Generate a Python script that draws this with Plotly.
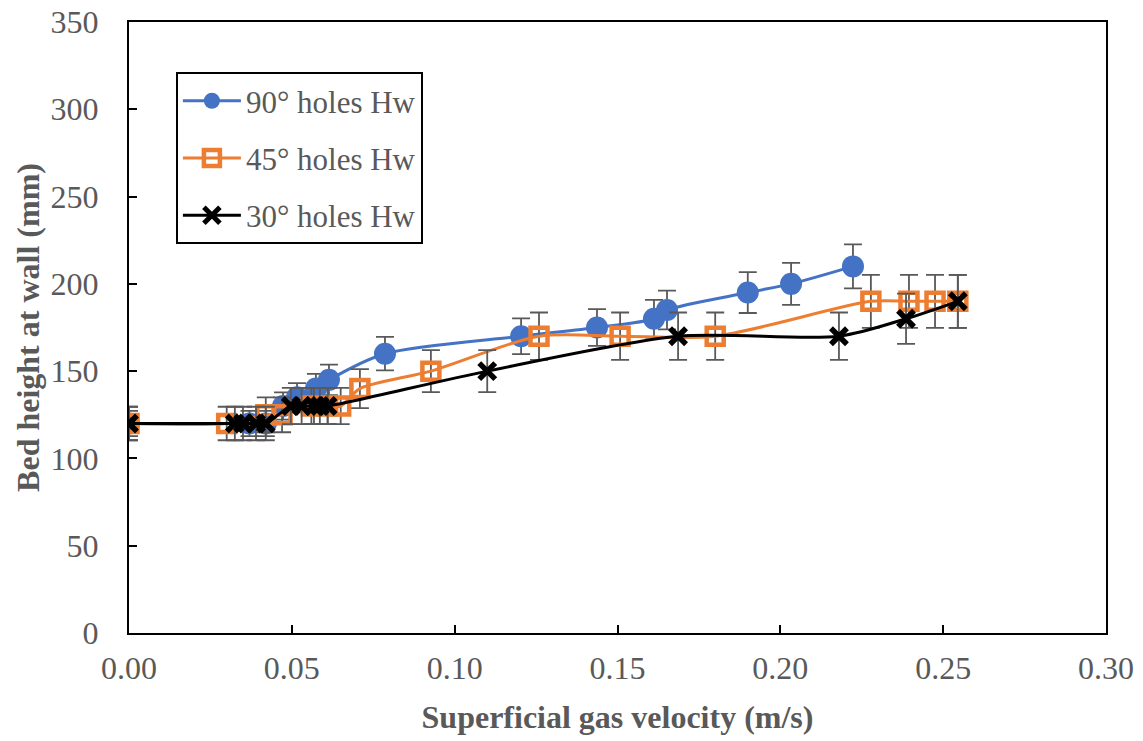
import plotly.graph_objects as go

# Superficial gas velocity (m/s) and wall bed height (mm) per distributor type
v90 = [0.0, 0.037, 0.042, 0.0473, 0.0516, 0.0574, 0.0614, 0.0786, 0.1204, 0.1437, 0.1612, 0.1652, 0.1900, 0.2033, 0.2223]
h90 = [120, 120, 120, 130, 135, 140, 145, 160, 170, 175, 180, 185, 195, 200, 210]

v45 = [0.0, 0.030, 0.042, 0.047, 0.056, 0.061, 0.065, 0.0709, 0.0927, 0.1259, 0.1508, 0.180, 0.2278, 0.2395, 0.2475, 0.2545]
h45 = [120, 120, 125, 125, 130, 130, 130, 140, 150, 170, 170, 170, 190, 190, 190, 190]

v30 = [0.0, 0.0325, 0.035, 0.039, 0.042, 0.0497, 0.053, 0.0568, 0.0586, 0.061, 0.110, 0.1686, 0.218, 0.2386, 0.2545]
h30 = [120, 120, 120, 120, 120, 130, 130, 130, 130, 130, 150, 170, 170, 180, 190]

# Relative measurement uncertainty (%)
err90 = 6
err45 = 8
err30 = 8

x_ticks = [0.0, 0.05, 0.10, 0.15, 0.20, 0.25, 0.30]
y_ticks = [0, 50, 100, 150, 200, 250, 300, 350]

FONT = "Liberation Serif"
GREY = "#595959"


def err(pct):
    return dict(type="percent", value=pct, color=GREY, thickness=1.8, width=9)


fig = go.Figure()
fig.add_trace(go.Scatter(
    x=v90, y=h90, name="90° holes Hw", legendgroup="a",
    mode="lines+markers", line=dict(color="#4472C4", width=3, shape="spline", smoothing=0.8),
    marker=dict(symbol="circle", size=22, color="#4472C4"),
    error_y=err(err90),
))
fig.add_trace(go.Scatter(
    x=v45, y=h45, name="45° holes Hw", legendgroup="b",
    mode="lines+markers", line=dict(color="#ED7D31", width=3, shape="spline", smoothing=0.8),
    marker=dict(symbol="square-open", size=17, color="#ED7D31", line=dict(width=4.5, color="#ED7D31")),
    error_y=err(err45),
))
fig.add_trace(go.Scatter(
    x=v30, y=h30, name="30° holes Hw", legendgroup="c",
    mode="lines+markers", line=dict(color="#000000", width=3, shape="spline", smoothing=0.8),
    marker=dict(symbol="x-thin", size=16, color="#000000", line=dict(width=5.5, color="#000000")),
    error_y=err(err30),
))

fig.update_layout(
    width=1143, height=741,
    margin=dict(l=129, r=37, t=22, b=108),
    paper_bgcolor="white", plot_bgcolor="white",
    font=dict(family=FONT, size=32, color=GREY),
    showlegend=True,
    legend=dict(
        x=0.048, y=0.918, xanchor="left", yanchor="top",
        bordercolor="black", borderwidth=2, bgcolor="white",
        traceorder="grouped", tracegroupgap=14, itemwidth=58,
        font=dict(family=FONT, size=31, color=GREY),
    ),
    xaxis=dict(
        range=[0, 0.30], tickvals=x_ticks, tickformat=".2f",
        automargin=False,
        showgrid=False, zeroline=False,
        showline=True, linecolor="black", linewidth=2, mirror=True,
        ticks="inside", ticklen=8, tickcolor="black", tickwidth=1.5,
        ticklabelstandoff=6,
        tickfont=dict(family=FONT, size=32, color=GREY),
        title=dict(text="<b>Superficial gas velocity (m/s)</b>", standoff=20,
                   font=dict(family=FONT, size=32, color=GREY)),
    ),
    yaxis=dict(
        range=[0, 350], tickvals=y_ticks,
        automargin=False,
        showgrid=False, zeroline=False,
        showline=True, linecolor="black", linewidth=2, mirror=True,
        ticks="inside", ticklen=8, tickcolor="black", tickwidth=1.5,
        ticklabelstandoff=22,
        tickfont=dict(family=FONT, size=32, color=GREY),
        title=dict(text="<b>Bed height at wall (mm)</b>", standoff=1,
                   font=dict(family=FONT, size=32, color=GREY)),
    ),
)

fig.write_html("out.html")
